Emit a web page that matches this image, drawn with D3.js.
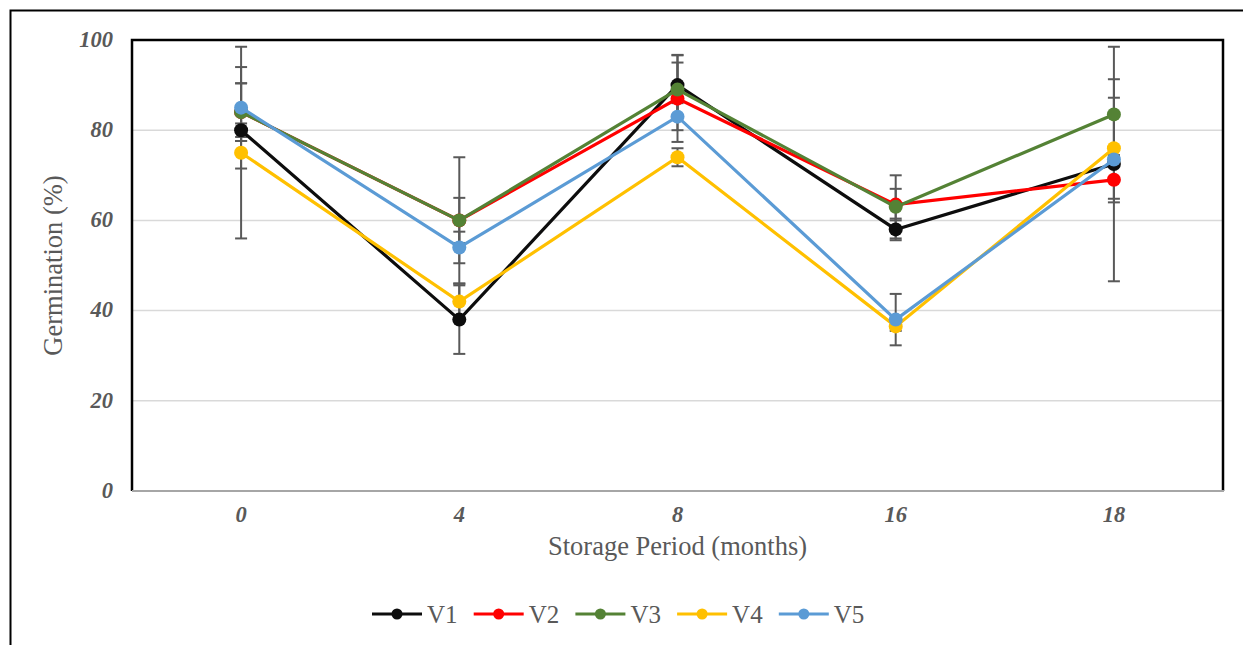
<!DOCTYPE html>
<html lang="en">
<head>
<meta charset="UTF-8">
<title>Germination vs Storage Period</title>
<script src="https://d3js.org/d3.v7.min.js"></script>
<style>
  body { margin: 0; background: #fff; }
  svg text { font-family: 'Liberation Serif', 'Times New Roman', serif; fill: #595959; }
  .tick-y, .tick-x { font-style: italic; font-weight: bold; font-size: 22.5px; }
</style>
</head>
<body>
<svg width="1243" height="645"></svg>
<script>
// data
const months = ["0", "4", "8", "16", "18"];
const seriesNames = ["V1", "V2", "V3", "V4", "V5"];
const seriesColors = ["#0d0d0d", "#ff0000", "#548235", "#ffc000", "#5b9bd5"];
const v1 = [80, 38, 90, 58, 72.5];
const v2 = [84, 60, 87, 63.5, 69];
const v3 = [84, 60, 89, 63, 83.5];
const v4 = [75, 42, 74, 36.5, 76];
const v5 = [85, 54, 83, 38, 73.5];
const err1 = [1.5, 7.6, 6.7, 2.4, 26];
const err2 = [6.4, 14, 9.6, 3.5, 5];
const err3 = [6.4, 5, 6, 7, 7.8];
const err4 = [19, 4, 2, 1, 11.2];
const err5 = [13.5, 3.5, 3, 5.7, 1];
const yTicks = [0, 20, 40, 60, 80, 100];

const values = [v1, v2, v3, v4, v5];
const errors = [err1, err2, err3, err4, err5];

const svg = d3.select("svg");
const plotLeft = 132, plotTop = 40, plotRight = 1223, plotBottom = 491;

const x = d3.scalePoint().domain(months).range([plotLeft, plotRight]).padding(0.5);
const y = d3.scaleLinear().domain([0, 100]).range([plotBottom, plotTop]);

// outer frame (only top and left show inside the window)
svg.append("path")
  .attr("d", `M10.5,660 L10.5,10.5 L1260,10.5`)
  .attr("fill", "none").attr("stroke", "#000").attr("stroke-width", 2);

// gridlines
svg.append("g").selectAll("line")
  .data(yTicks.filter(d => d > 0 && d < 100))
  .join("line")
  .attr("x1", plotLeft).attr("x2", plotRight)
  .attr("y1", d => y(d)).attr("y2", d => y(d))
  .attr("stroke", "#d9d9d9").attr("stroke-width", 1.5);

// plot area frame
svg.append("path")
  .attr("d", `M${plotLeft},${plotBottom} L${plotLeft},${plotTop} L${plotRight},${plotTop} L${plotRight},${plotBottom}`)
  .attr("fill", "none").attr("stroke", "#000").attr("stroke-width", 2.5);
svg.append("line")
  .attr("x1", plotLeft).attr("x2", plotRight + 1)
  .attr("y1", plotBottom).attr("y2", plotBottom)
  .attr("stroke", "#a6a6a6").attr("stroke-width", 2);

// y tick labels
svg.append("g").selectAll("text")
  .data(yTicks)
  .join("text")
  .attr("class", "tick-y")
  .attr("x", 113).attr("y", d => y(d))
  .attr("dy", "0.3em")
  .attr("text-anchor", "end")
  .text(d => d);

// x tick labels
svg.append("g").selectAll("text")
  .data(months)
  .join("text")
  .attr("class", "tick-x")
  .attr("x", d => x(d)).attr("y", 514)
  .attr("dy", "0.35em")
  .attr("text-anchor", "middle")
  .text(d => d);

// axis titles
svg.append("text")
  .attr("x", (plotLeft + plotRight) / 2).attr("y", 546)
  .attr("dy", "0.35em").attr("text-anchor", "middle")
  .style("font-size", "26.5px")
  .text("Storage Period (months)");
svg.append("text")
  .attr("transform", `translate(53,${(plotTop + plotBottom) / 2}) rotate(-90)`)
  .attr("dy", "0.35em").attr("text-anchor", "middle")
  .style("font-size", "26.5px")
  .text("Germination (%)");

// error bars
const errG = svg.append("g").attr("stroke", "#595959").attr("stroke-width", 2);
values.forEach((vals, s) => {
  vals.forEach((v, i) => {
    const cx = x(months[i]);
    const hi = y(v + errors[s][i]), lo = y(v - errors[s][i]);
    errG.append("line").attr("x1", cx).attr("x2", cx).attr("y1", hi).attr("y2", lo);
    errG.append("line").attr("x1", cx - 6).attr("x2", cx + 6).attr("y1", hi).attr("y2", hi);
    errG.append("line").attr("x1", cx - 6).attr("x2", cx + 6).attr("y1", lo).attr("y2", lo);
  });
});

// series lines and markers
const line = d3.line().x((d, i) => x(months[i])).y(d => y(d));
values.forEach((vals, s) => {
  const g = svg.append("g");
  g.append("path")
    .attr("d", line(vals))
    .attr("fill", "none")
    .attr("stroke", seriesColors[s])
    .attr("stroke-width", 3.2);
  g.selectAll("circle")
    .data(vals)
    .join("circle")
    .attr("cx", (d, i) => x(months[i]))
    .attr("cy", d => y(d))
    .attr("r", 7)
    .attr("fill", seriesColors[s]);
});

// legend
const legend = svg.append("g");
seriesNames.forEach((name, s) => {
  const lx = 372 + s * 101.7, ly = 614;
  legend.append("line")
    .attr("x1", lx).attr("x2", lx + 50).attr("y1", ly).attr("y2", ly)
    .attr("stroke", seriesColors[s]).attr("stroke-width", 3.2);
  legend.append("circle")
    .attr("cx", lx + 25).attr("cy", ly).attr("r", 5.5).attr("fill", seriesColors[s]);
  legend.append("text")
    .attr("x", lx + 55).attr("y", ly).attr("dy", "0.35em")
    .style("font-size", "25px")
    .text(name);
});
</script>
</body>
</html>
